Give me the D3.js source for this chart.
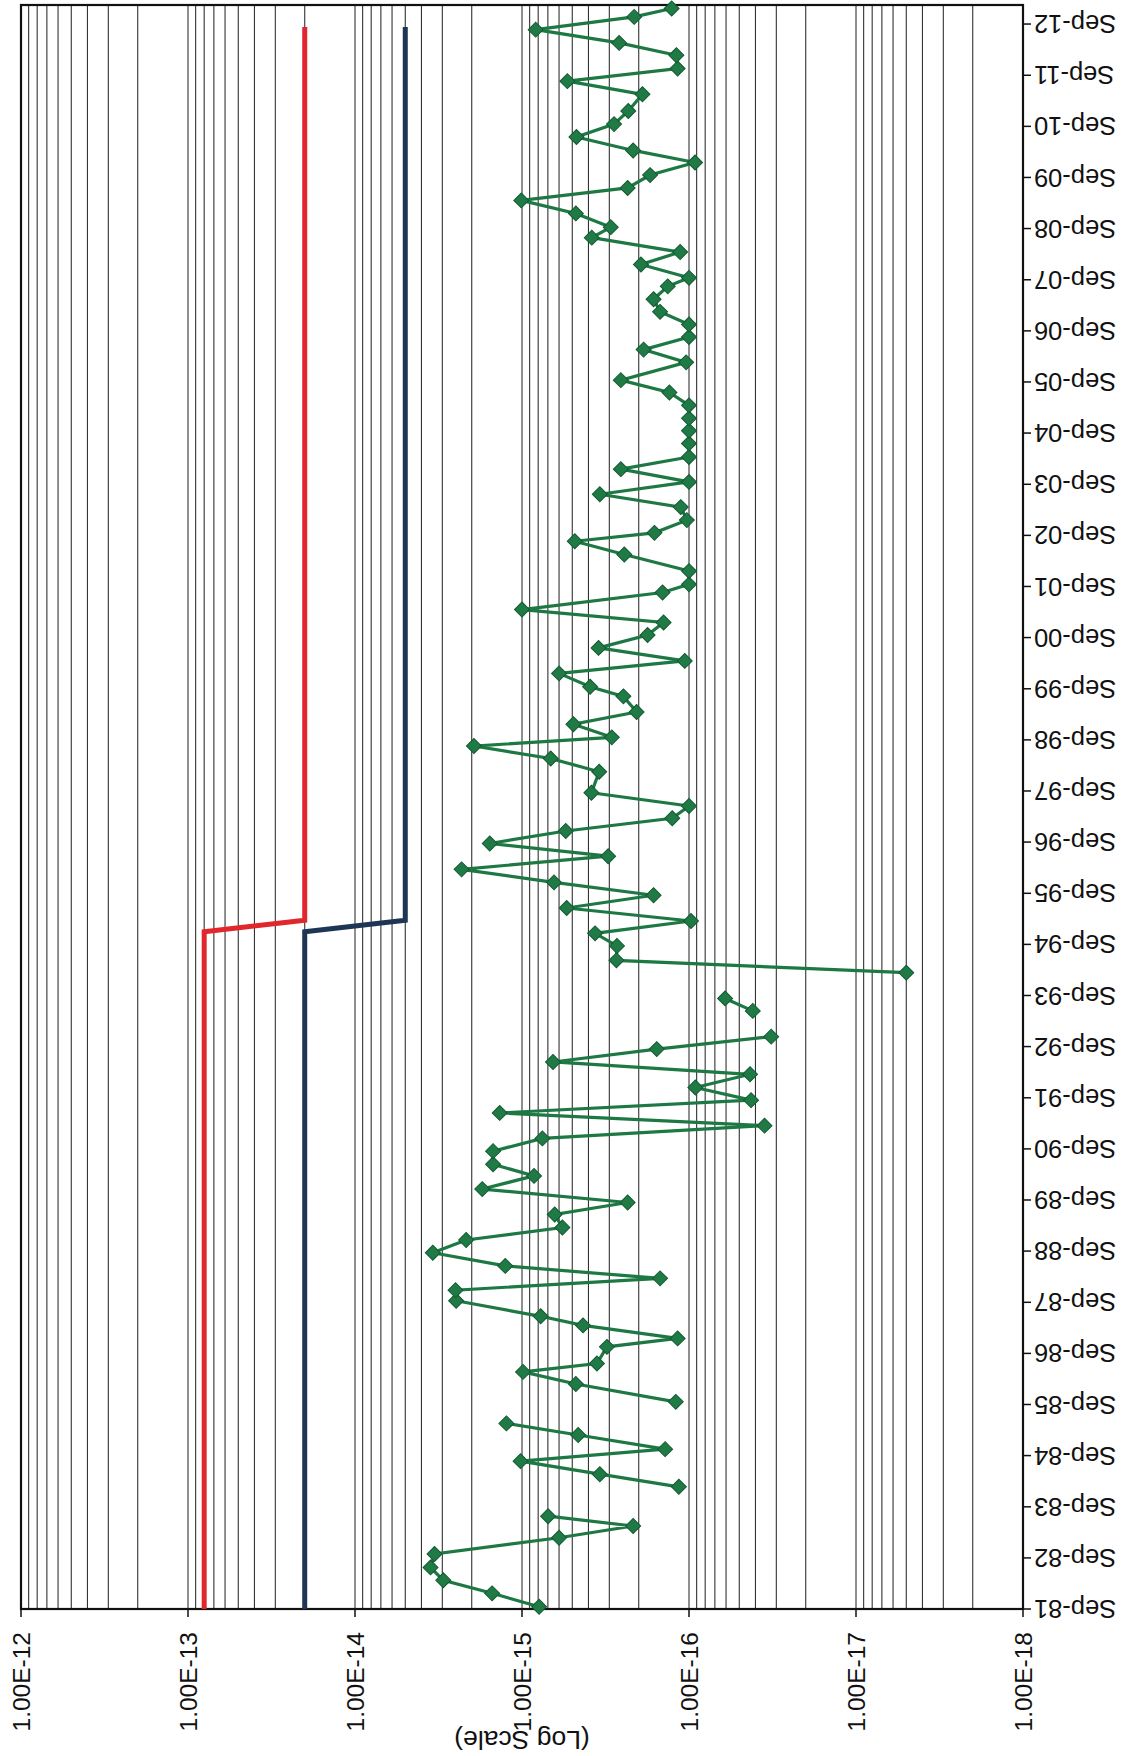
<!DOCTYPE html>
<html><head><meta charset="utf-8">
<script src="https://cdn.jsdelivr.net/npm/d3@7"></script>
<style>body{margin:0;background:#fff}svg{display:block}</style>
</head><body><svg id="c" width="1135" height="1756"></svg>
<script>
// ---- data ----
const sampleDates = [
"1981-09-17","1981-12-22","1982-03-25","1982-06-25","1982-09-29","1983-01-23","1983-04-17","1983-06-26","1983-10-01",
"1984-01-22","1984-04-21","1984-07-23","1984-10-17","1985-01-26","1985-04-19","1985-06-20","1985-09-20",
"1986-01-25","1986-04-22","1986-06-21","1986-10-18","1986-12-17","1987-03-20","1987-05-24","1987-09-12","1987-11-27",
"1988-02-19","1988-05-18","1988-08-20","1988-11-19","1989-02-16","1989-05-20","1989-08-14","1989-11-18",
"1990-02-20","1990-05-14","1990-08-16","1990-11-15","1991-02-14","1991-05-16","1991-08-15","1991-11-14",
"1992-02-16","1992-05-14","1992-08-14","1992-11-11","1993-02-10","1993-05-14","1993-08-11","1993-11-10",
"1994-02-11","1994-05-10","1994-08-21","1994-11-19","1995-02-15","1995-05-19","1995-08-18","1995-11-18",
"1996-02-19","1996-05-23","1996-08-22","1996-11-19","1997-02-18","1997-05-17","1997-08-19","1998-01-16",
"1998-04-21","1998-07-19","1998-09-19","1998-12-22","1999-03-19","1999-07-09","1999-09-16","1999-12-20",
"2000-03-18","2000-06-19","2000-09-19","2000-12-18","2001-03-20","2001-07-20","2001-09-16","2001-12-20",
"2002-04-17","2002-07-21","2002-09-19","2002-12-19","2003-03-22","2003-06-22","2003-09-18","2003-12-18",
"2004-03-14","2004-06-19","2004-09-17","2004-12-15","2005-03-18","2005-06-18","2005-09-14","2006-01-19",
"2006-04-20","2006-07-19","2006-10-17","2007-01-15","2007-04-15","2007-07-16","2007-09-15","2007-12-19",
"2008-03-17","2008-06-28","2008-09-11","2008-12-18","2009-03-21","2009-06-18","2009-09-18","2009-12-17",
"2010-03-13","2010-06-17","2010-09-17","2010-12-20","2011-04-18","2011-07-21","2011-10-19","2012-01-22",
"2012-04-19","2012-07-23","2012-10-22","2012-12-21"];
const sampleValues = [
7.9e-16,1.51e-15,2.96e-15,3.53e-15,3.34e-15,6.0e-16,2.16e-16,6.98e-16,null,
1.15e-16,3.42e-16,1.02e-15,1.39e-16,4.61e-16,1.24e-15,null,1.2e-16,
4.76e-16,9.86e-16,3.56e-16,3.1e-16,1.17e-16,4.31e-16,7.73e-16,2.48e-15,2.5e-15,
1.49e-16,1.26e-15,3.42e-15,2.16e-15,5.73e-16,6.37e-16,2.33e-16,1.73e-15,
8.47e-16,1.49e-15,1.49e-15,7.55e-16,3.53e-17,1.36e-15,4.25e-17,9.16e-17,
4.31e-17,6.52e-16,1.56e-16,3.22e-17,null,4.15e-17,6.08e-17,null,
5.0e-18,2.72e-16,2.7e-16,3.65e-16,9.73e-17,5.4e-16,1.63e-16,6.43e-16,
2.3e-15,3.05e-16,1.56e-15,5.47e-16,1.26e-16,1.0e-16,3.84e-16,3.45e-16,
6.73e-16,1.94e-15,2.9e-16,4.92e-16,2.06e-16,2.47e-16,3.91e-16,6.0e-16,
1.06e-16,3.48e-16,1.77e-16,1.42e-16,1.0e-15,1.44e-16,1.0e-16,1.0e-16,
2.44e-16,4.83e-16,1.61e-16,1.03e-16,1.12e-16,3.42e-16,1.0e-16,2.56e-16,
1.0e-16,1.0e-16,1.0e-16,1.0e-16,1.0e-16,1.31e-16,2.56e-16,1.04e-16,
1.87e-16,1.0e-16,1.0e-16,1.49e-16,1.63e-16,1.34e-16,1.0e-16,1.94e-16,
1.13e-16,3.82e-16,2.94e-16,4.76e-16,1.01e-15,2.33e-16,1.71e-16,9.2e-17,
2.16e-16,4.72e-16,2.81e-16,2.31e-16,1.9e-16,5.35e-16,1.17e-16,1.19e-16,
2.62e-16,8.28e-16,2.13e-16,1.27e-16];
const limitDates = ["1981-09-01","1994-12-01","1995-02-20","2012-08-10"];
const upperLimit = [8e-14, 8e-14, 2e-14, 2e-14];
const lowerLimit = [2e-14, 2e-14, 5e-15, 5e-15];
const valueTicks = [1e-12,1e-13,1e-14,1e-15,1e-16,1e-17,1e-18];
const tickYears = d3.range(1981, 2013);
const axisTitle = "(Log Scale)";

// ---- drawing: chart built in its own frame, then turned a quarter turn ----
const FONT = "'Liberation Sans', Arial, Helvetica, sans-serif";
const W = 1756;
const parse = d3.utcParse("%Y-%m-%d");
const svg = d3.select("#c");
const g = svg.append("g").attr("transform", `translate(0,${W}) rotate(-90)`);

const x = d3.scaleUtc().domain([parse("1981-09-01"), parse("2013-01-15")]).range([147, 1751]);
const y = d3.scaleLog().domain([1e-12, 1e-18]).range([21, 1023]);
const [x0, x1] = x.range(), [y0, y1] = y.range();

// gridlines on every log step
g.append("g").selectAll("line").data(y.ticks()).join("line")
  .attr("x1", x0).attr("x2", x1)
  .attr("y1", d => y(d)).attr("y2", d => y(d))
  .attr("stroke", "#333").attr("stroke-width", 1.1);

// frame
g.append("rect").attr("x", x0).attr("y", y0).attr("width", x1 - x0).attr("height", y1 - y0)
  .attr("fill", "none").attr("stroke", "#111").attr("stroke-width", 2.2);

// limit lines
const limLine = d3.line().x((d, i) => x(parse(limitDates[i]))).y(d => y(d));
g.append("path").datum(upperLimit).attr("d", limLine)
  .attr("fill", "none").attr("stroke", "#e1262c").attr("stroke-width", 5);
g.append("path").datum(lowerLimit).attr("d", limLine)
  .attr("fill", "none").attr("stroke", "#1d3656").attr("stroke-width", 5);

// sample series
const pts = sampleDates.map((s, i) => ({date: parse(s), v: sampleValues[i]}));
const line = d3.line().defined(d => d.v != null).x(d => x(d.date)).y(d => y(d.v));
g.append("path").datum(pts).attr("d", line)
  .attr("fill", "none").attr("stroke", "#1e7843").attr("stroke-width", 3.2);
g.append("g").selectAll("path").data(pts.filter(d => d.v != null)).join("path")
  .attr("d", d3.symbol(d3.symbolSquare, 112))
  .attr("transform", d => `translate(${x(d.date)},${y(d.v)}) rotate(45)`)
  .attr("fill", "#1f7a45").attr("stroke", "#145a31").attr("stroke-width", 1);

// value axis (log) on the frame's left side
const fmt = d3.format(".2e");
const va = g.append("g");
va.selectAll("line").data(valueTicks).join("line")
  .attr("x1", x0).attr("x2", x0 - 8).attr("y1", d => y(d)).attr("y2", d => y(d))
  .attr("stroke", "#111").attr("stroke-width", 1.5);
va.selectAll("text").data(valueTicks).join("text")
  .attr("x", 124).attr("y", d => y(d)).attr("dy", "0.35em")
  .attr("text-anchor", "end").attr("font-family", FONT).attr("font-size", 24.5).attr("fill", "#111")
  .text(d => fmt(d).toUpperCase());
g.append("text").attr("transform", `translate(25,${(y0 + y1) / 2}) rotate(-90)`)
  .attr("text-anchor", "middle").attr("font-family", FONT).attr("font-size", 26.5).attr("fill", "#111")
  .text(axisTitle);

// date axis on the frame's bottom side
const tickDates = tickYears.map(yr => new Date(Date.UTC(yr, 8, 1)));
const dfmt = d3.utcFormat("%b-%y");
const da = g.append("g");
da.selectAll("line").data(tickDates).join("line")
  .attr("x1", d => x(d)).attr("x2", d => x(d)).attr("y1", y1).attr("y2", y1 + 8)
  .attr("stroke", "#111").attr("stroke-width", 1.5);
da.selectAll("text").data(tickDates).join("text")
  .attr("transform", d => `translate(${x(d)},${y1 + 11}) rotate(-90)`)
  .attr("dy", "0.35em").attr("text-anchor", "end")
  .attr("font-family", FONT).attr("font-size", 25.5).attr("fill", "#111")
  .text(d => dfmt(d));
</script>
</body></html>
